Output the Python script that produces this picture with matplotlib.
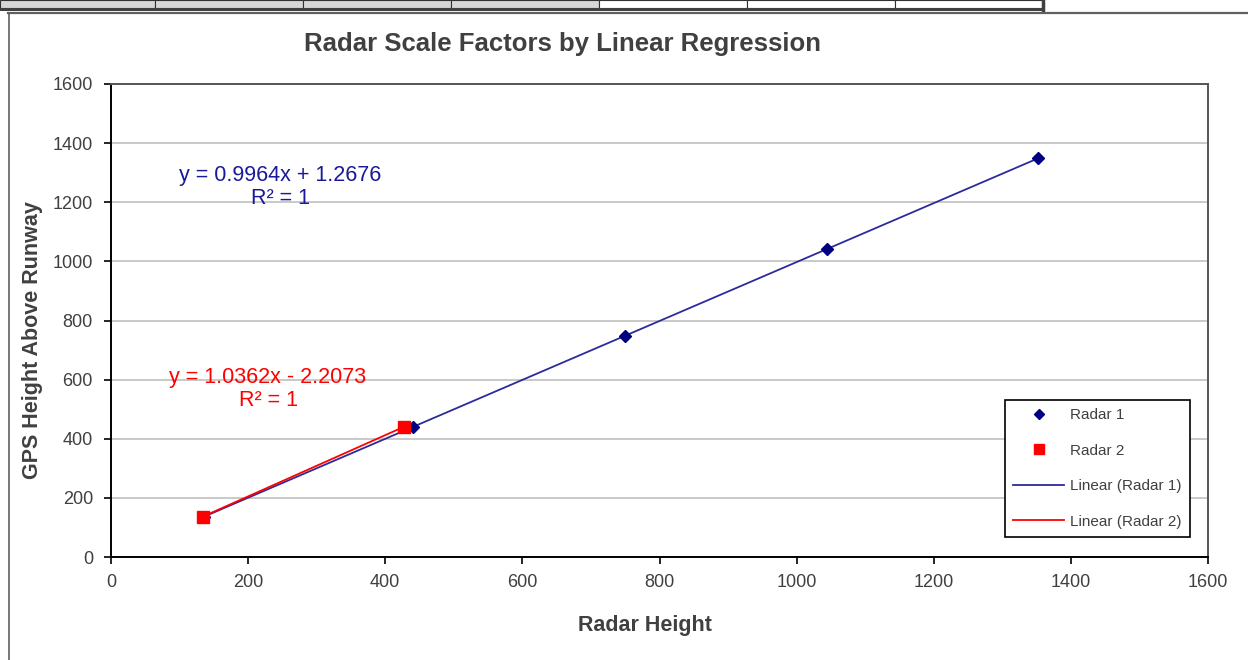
import matplotlib
matplotlib.use("Agg")
import matplotlib.pyplot as plt
import numpy as np
from matplotlib.patches import Rectangle
from matplotlib.lines import Line2D

plt.rcParams['font.family'] = ['Liberation Sans', 'DejaVu Sans']

# Data
radar1_x = [135, 440, 750, 1045, 1352]
radar1_y = [135.8, 439.7, 748.6, 1042.5, 1348.4]
radar2_x = [134, 427]
radar2_y = [136.6, 440.2]

title = "Radar Scale Factors by Linear Regression"
xlabel = "Radar Height"
ylabel = "GPS Height Above Runway"
eq1 = ["y = 0.9964x + 1.2676", "R² = 1"]
eq2 = ["y = 1.0362x - 2.2073", "R² = 1"]
ticks = [0, 200, 400, 600, 800, 1000, 1200, 1400, 1600]

W, H = 1248, 660
fig = plt.figure(figsize=(W / 100, H / 100), dpi=100)

def fx(px):
    return px / W

def fy(py):
    return 1 - py / H

# spreadsheet strip at top
cells = [0, 155, 303, 451, 599, 747, 895, 1043]
for i in range(len(cells) - 1):
    fc = '#d6d6d6' if cells[i] < 599 else 'white'
    fig.add_artist(Rectangle((fx(cells[i]), fy(8)), fx(cells[i + 1] - cells[i]), 8 / H,
                             transform=fig.transFigure, facecolor=fc, edgecolor='#303030', lw=0.8))
fig.add_artist(Rectangle((0, fy(11)), fx(1043), 3 / H, transform=fig.transFigure,
                         facecolor='#404040', edgecolor='none'))
fig.add_artist(Line2D([fx(1043), fx(1043)], [fy(0), fy(11)], transform=fig.transFigure,
                      color='#404040', lw=2.5))
# chart border
fig.add_artist(Line2D([fx(8), 1], [fy(13), fy(13)], transform=fig.transFigure,
                      color='#606060', lw=1.6))
fig.add_artist(Line2D([fx(8.5), fx(8.5)], [fy(13), 0], transform=fig.transFigure,
                      color='#606060', lw=1.2))

ax = fig.add_axes([fx(111), fy(557), fx(1208 - 111), (557 - 84) / H])
ax.set_xlim(0, 1600)
ax.set_ylim(0, 1600)
ax.set_xticks(ticks)
ax.set_yticks(ticks)
ax.yaxis.grid(True, color='#c0c0c0', lw=1.2)
ax.set_axisbelow(True)
for s in ['left', 'bottom']:
    ax.spines[s].set_color('black')
    ax.spines[s].set_linewidth(1.4)
for s in ['top', 'right']:
    ax.spines[s].set_color('#555555')
    ax.spines[s].set_linewidth(1.4)
ax.tick_params(axis='both', direction='out', length=5, width=1.2, color='black',
               labelsize=13, labelcolor='#404040')
ax.tick_params(axis='y', pad=8)
ax.tick_params(axis='x', pad=7)

blue_m = '#000080'
blue_l = '#2b2b9c'
red = '#ff0000'

# trendlines
for xs, ys, c in [(radar1_x, radar1_y, blue_l), (radar2_x, radar2_y, red)]:
    p = np.polyfit(xs, ys, 1)
    xx = np.array([min(xs), max(xs)])
    ax.plot(xx, np.polyval(p, xx), color=c, lw=1.3, zorder=3)

ax.plot(radar1_x, radar1_y, ls='none', marker='D', ms=6, color=blue_m, zorder=4)
ax.plot(radar2_x, radar2_y, ls='none', marker='s', ms=8.5, color=red, zorder=5)

eqfs = 15.5
ax.text(246.5, 1290, eq1[0], color='#1a1a99', fontsize=eqfs, ha='center', va='center')
ax.text(246.5, 1212, eq1[1], color='#1a1a99', fontsize=eqfs, ha='center', va='center')
ax.text(229, 608, eq2[0], color=red, fontsize=eqfs, ha='center', va='center')
ax.text(229, 530, eq2[1], color=red, fontsize=eqfs, ha='center', va='center')

handles = [
    Line2D([], [], ls='none', marker='D', ms=5, color=blue_m),
    Line2D([], [], ls='none', marker='s', ms=6.5, color=red),
    Line2D([], [], color=blue_l, lw=1.3),
    Line2D([], [], color=red, lw=1.3),
]
labels = ["Radar 1", "Radar 2", "Linear (Radar 1)", "Linear (Radar 2)"]
leg = ax.legend(handles, labels, loc='upper left', bbox_to_anchor=(0.815, 0.332),
                fontsize=11, labelcolor='#404040', frameon=True, fancybox=False,
                edgecolor='black', framealpha=1, labelspacing=1.4, handlelength=3.3,
                borderpad=0.55, handletextpad=0.4, borderaxespad=0)
leg.get_frame().set_linewidth(1.2)

fig.text(fx(562), fy(44), title, fontsize=18.5, fontweight='bold', color='#404040',
         ha='center', va='center')
fig.text(fx(645), fy(626), xlabel, fontsize=15.5, fontweight='bold', color='#404040',
         ha='center', va='center')
fig.text(fx(33), fy(340), ylabel, fontsize=15.5, fontweight='bold', color='#404040',
         ha='center', va='center', rotation=90)

fig.savefig("out.png", dpi=100)
